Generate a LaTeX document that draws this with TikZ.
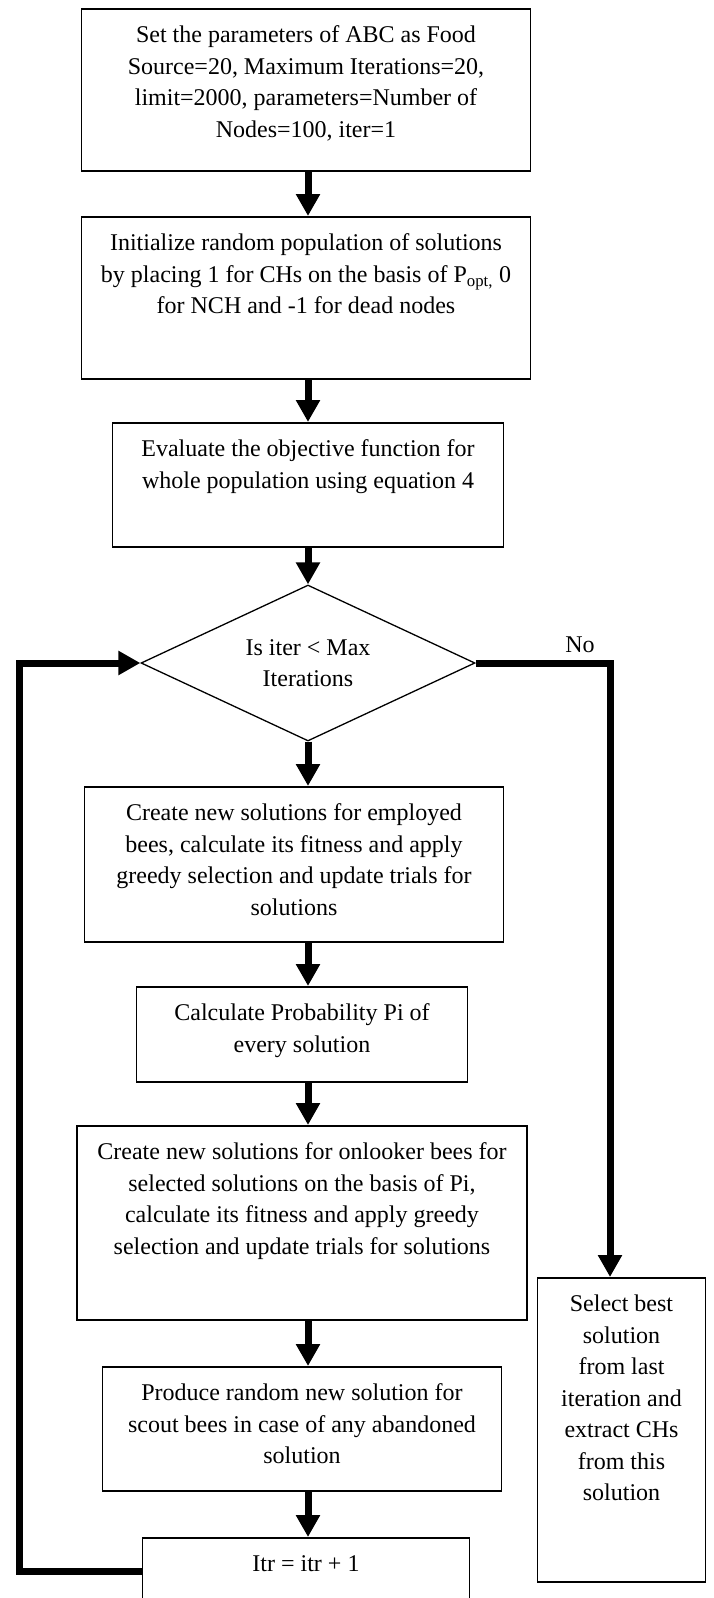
\documentclass[tikz,border=0pt]{standalone}
\usepackage{fontspec}
\setmainfont{Liberation Serif}
\usetikzlibrary{arrows.meta,shapes.geometric}
\tikzset{
  box/.style={draw,line width=1.6pt,inner sep=0pt,font=\fontsize{24}{31.5}\selectfont},
  decision/.style={draw,diamond,aspect=2.14,inner sep=0pt,line width=1.3pt,align=center,
    font=\fontsize{24}{31.5}\selectfont},
  flow/.style={line width=7pt,-{Triangle[length=22pt,width=23pt]}},
  lbl/.style={inner sep=0pt,font=\fontsize{24}{31.5}\selectfont}
}
\newcommand{\flowbox}[6]{% name, centre x, top y, width, height, text
  \node[box,minimum width=#4,minimum height=#5,anchor=north] (#1) at (#2,#3)
    {\parbox[c][\dimexpr#5pt-24pt\relax][t]{\dimexpr#4pt-16pt\relax}{\centering\strut#6}};}
\begin{document}
\begin{tikzpicture}[x=1pt,y=-1pt]
  \useasboundingbox (0,0) rectangle (713,1598);
  \clip (0,0) rectangle (713,1598);
  \coordinate (spine) at (308,0);
  % main column
  \flowbox{set}{306}{8}{449}{162}{Set the parameters of ABC as Food\\Source=20, Maximum Iterations=20,\\limit=2000, parameters=Number of\\Nodes=100, iter=1}
  \flowbox{init}{306}{216}{449}{162}{Initialize random population of solutions\\by placing 1 for CHs on the basis of P\textsubscript{opt,} 0\\for NCH and -1 for dead nodes}
  \flowbox{eval}{308}{422}{391}{124}{Evaluate the objective function for\\whole population using equation 4}
  \node[decision,minimum width=334,minimum height=156] (test) at (308,663) {Is iter < Max\\Iterations};
  \flowbox{employ}{294}{786}{419}{155}{Create new solutions for employed\\bees, calculate its fitness and apply\\greedy selection and update trials for\\solutions}
  \flowbox{prob}{302}{986}{331}{95}{Calculate Probability Pi of\\every solution}
  \flowbox{onlook}{302}{1125}{450}{194}{Create new solutions for onlooker bees for\\selected solutions on the basis of Pi,\\calculate its fitness and apply greedy\\selection and update trials for solutions}
  \flowbox{scout}{302}{1366}{399}{124}{Produce random new solution for\\scout bees in case of any abandoned\\solution}
  \flowbox{itr}{306}{1537}{327}{120}{Itr = itr + 1}
  % exit branch
  \flowbox{best}{621.5}{1277}{168}{304}{Select best\\solution\\from last\\iteration and\\extract CHs\\from this\\solution}

  \draw[flow] (set.south -| spine) -- (init.north -| spine);
  \draw[flow] (init.south -| spine) -- (eval.north -| spine);
  \draw[flow] (eval.south -| spine) -- (test.north);
  \draw[flow] (test.south) -- (employ.north -| spine);
  \draw[flow] (employ.south -| spine) -- (prob.north -| spine);
  \draw[flow] (prob.south -| spine) -- (onlook.north -| spine);
  \draw[flow] (onlook.south -| spine) -- (scout.north -| spine);
  \draw[flow] (scout.south -| spine) -- (itr.north -| spine);

  % No branch
  \coordinate (nocorner) at (610,663);
  \draw[flow] (test.east) -- (nocorner) -- (nocorner |- best.north);
  \node[lbl] (no) at (580,645) {No};

  % loop back
  \coordinate (loopbot) at (19,1571);
  \draw[flow] (loopbot -| itr.west) -- (loopbot) -- (loopbot |- test.west) -- (test.west);
\end{tikzpicture}
\end{document}
